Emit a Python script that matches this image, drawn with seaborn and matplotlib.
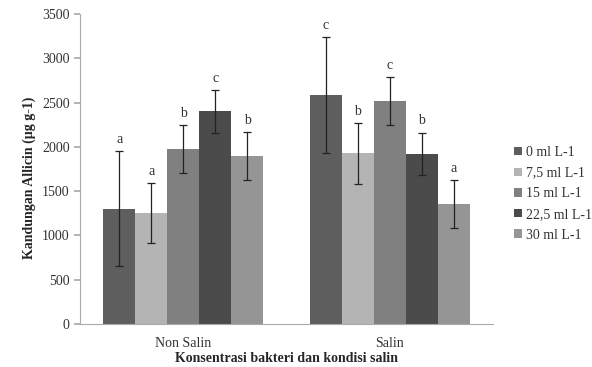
"""Kandungan allicin per konsentrasi bakteri dan kondisi salin."""

import matplotlib
matplotlib.use("Agg")
import matplotlib.pyplot as plt
import pandas as pd
import seaborn as sns

# === Data ===
kondisi = ["Non Salin", "Salin"]
konsentrasi = ["0 ml L-1", "7,5 ml L-1", "15 ml L-1", "22,5 ml L-1", "30 ml L-1"]
nilai_non_salin = [1300, 1250, 1975, 2400, 1895]
nilai_salin = [2585, 1925, 2515, 1920, 1355]
sd_non_salin = [650, 340, 270, 240, 270]
sd_salin = [650, 340, 270, 240, 270]
huruf_non_salin = ["a", "a", "b", "c", "b"]
huruf_salin = ["c", "b", "c", "b", "a"]

warna = ["#5e5e5e", "#b4b4b4", "#808080", "#4b4b4b", "#959595"]

df = pd.DataFrame({
    "kondisi": [k for k in kondisi for _ in konsentrasi],
    "konsentrasi": konsentrasi * 2,
    "nilai": nilai_non_salin + nilai_salin,
    "sd": sd_non_salin + sd_salin,
    "huruf": huruf_non_salin + huruf_salin,
})

sns.set_theme(style="white")
plt.rcParams["font.family"] = ["Liberation Serif", "DejaVu Serif"]

fig = plt.figure(figsize=(5.92, 3.67), dpi=100)
ax = fig.add_axes([0.135, 0.117, 0.698, 0.845])

sns.barplot(data=df, x="kondisi", y="nilai", hue="konsentrasi",
            hue_order=konsentrasi, palette=warna, width=0.775,
            errorbar=None, saturation=1, linewidth=0, ax=ax)

# error bar + huruf notasi, posisi diambil dari patch yang digambar seaborn
bars = [p for p in ax.patches if p.get_height() > 0][:len(df)]
# seaborn menggambar per hue: urutan patch = hue-major
for i, b in enumerate(bars):
    h_idx, k_idx = divmod(i, len(kondisi))
    row = df[(df.kondisi == kondisi[k_idx]) & (df.konsentrasi == konsentrasi[h_idx])].iloc[0]
    cx = b.get_x() + b.get_width() / 2
    ax.errorbar(cx, row.nilai, yerr=row.sd, fmt="none", ecolor="#222222",
                elinewidth=0.9, capsize=3, capthick=0.9)
    ax.text(cx, row.nilai + row.sd + 60, row.huruf, ha="center", va="bottom",
            fontsize=10, color="#333333")

ax.set_ylim(0, 3500)
ax.set_yticks(range(0, 3501, 500))
ax.set_xlim(-0.5, 1.5)
ax.set_xticks([0, 1])
ax.set_xticklabels(kondisi)
ax.set_xticks([-0.5, 0.5, 1.5], minor=True)
ax.tick_params(axis="x", which="major", length=0, labelsize=10, colors="#333333", pad=9)
ax.tick_params(axis="x", which="minor", length=4, color="#aaaaaa", direction="out")
ax.tick_params(axis="y", length=4, color="#aaaaaa", labelsize=10, colors="#333333",
               direction="out", left=True)
ax.tick_params(axis="y", color="#aaaaaa")
for s in ["top", "right"]:
    ax.spines[s].set_visible(False)
for s in ["left", "bottom"]:
    ax.spines[s].set_color("#aaaaaa")
    ax.spines[s].set_linewidth(0.8)

ax.set_ylabel("Kandungan Allicin (µg g-1)", fontsize=10, fontweight="bold")
ax.yaxis.set_label_coords(-0.107, 0.47)
ax.set_xlabel("Konsentrasi bakteri dan kondisi salin", fontsize=10,
              fontweight="bold", labelpad=2)

handles, labels = ax.get_legend_handles_labels()
ax.legend(handles, labels, loc="center left", bbox_to_anchor=(1.02, 0.42),
          frameon=False, fontsize=10, handlelength=0.55, handleheight=0.55,
          handletextpad=0.3, labelspacing=0.55, labelcolor="#333333")

fig.savefig("out.png", dpi=100)
